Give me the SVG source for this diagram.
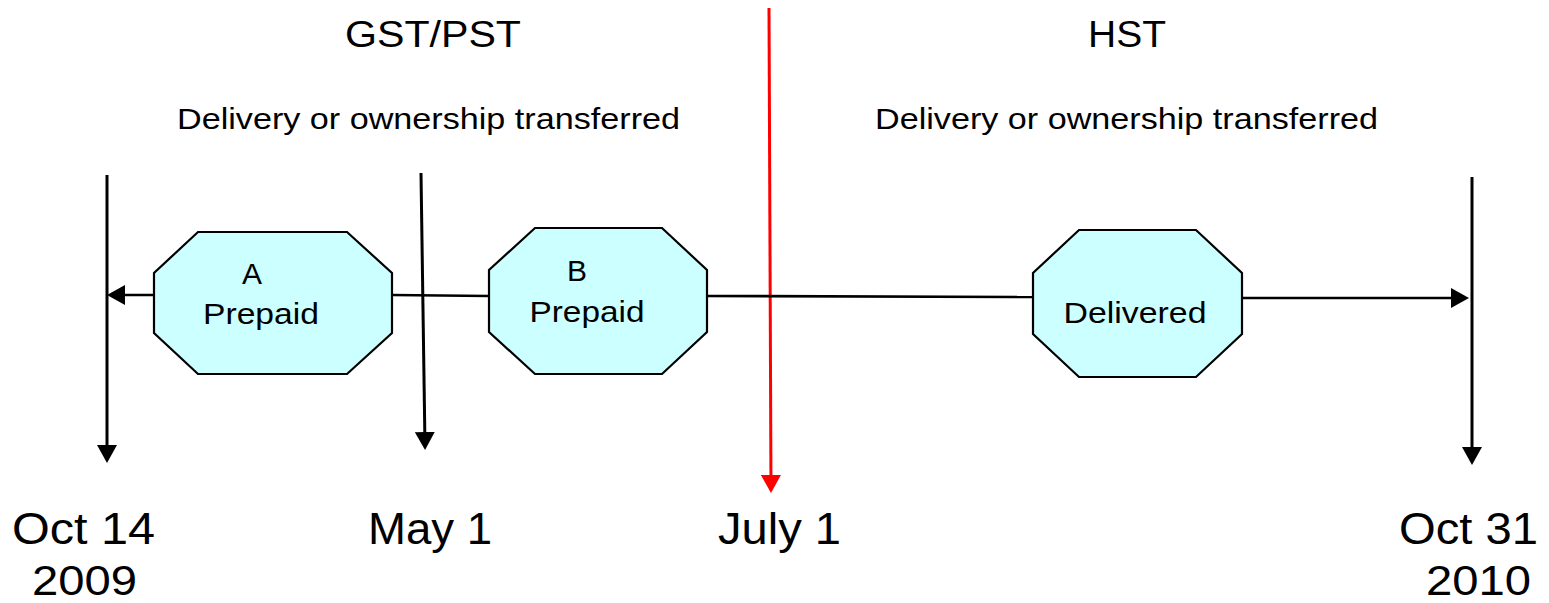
<svg xmlns="http://www.w3.org/2000/svg" width="1549" height="603" viewBox="0 0 1549 603">
<style>
  text { font-family: "Liberation Sans", Arial, sans-serif; fill: #000; }
  .hdr { font-size: 37px; }
  .sub { font-size: 29px; }
  .date { font-size: 44px; }
  .yr { font-size: 42px; }
  .lbl { font-size: 29px; text-anchor: middle; }
  .oct { fill: #CCFFFF; stroke: #000; stroke-width: 2.2; }
  .conn { stroke: #000; stroke-width: 2.6; fill: none; }
  .vline { stroke: #000; stroke-width: 3; fill: none; }
  .red { stroke: #FF0000; stroke-width: 3; fill: none; }
</style>
<defs>
  <marker id="ah" viewBox="0 0 18 20" refX="14" refY="10" markerWidth="18" markerHeight="20" markerUnits="userSpaceOnUse" orient="auto">
    <path d="M0,0 L18,10 L0,20 z" fill="#000"/>
  </marker>
  <marker id="ahr" viewBox="0 0 18 20" refX="14" refY="10" markerWidth="18" markerHeight="20" markerUnits="userSpaceOnUse" orient="auto">
    <path d="M0,0 L18,10 L0,20 z" fill="#FF0000"/>
  </marker>
</defs>
<rect width="1549" height="603" fill="#fff"/>

<g id="headers">
  <text class="hdr" x="345" y="47" textLength="176" lengthAdjust="spacingAndGlyphs">GST/PST</text>
  <text class="sub" x="177" y="129" textLength="503" lengthAdjust="spacingAndGlyphs">Delivery or ownership transferred</text>
  <text class="hdr" x="1088" y="47" textLength="78" lengthAdjust="spacingAndGlyphs">HST</text>
  <text class="sub" x="875" y="129" textLength="503" lengthAdjust="spacingAndGlyphs">Delivery or ownership transferred</text>
</g>

<g id="connectors">
  <line class="vline" x1="107" y1="175" x2="107" y2="459" marker-end="url(#ah)"/>
  <line class="vline" x1="421" y1="173" x2="425" y2="446" marker-end="url(#ah)"/>
  <line class="vline" x1="1472" y1="177" x2="1472" y2="461" marker-end="url(#ah)"/>
  <line class="red" x1="769" y1="8" x2="771" y2="489" marker-end="url(#ahr)"/>
  <line class="conn" x1="154" y1="295" x2="111" y2="295" marker-end="url(#ah)"/>
  <line class="conn" x1="392" y1="295" x2="489" y2="296"/>
  <line class="conn" x1="707" y1="296" x2="1033" y2="297"/>
  <line class="conn" x1="1242" y1="298" x2="1465" y2="298" marker-end="url(#ah)"/>
</g>

<g id="nodeA">
  <polygon class="oct" points="198,232 347,232 392,273 392,333 347,374 198,374 154,333 154,273"/>
  <text class="lbl" x="252" y="284" textLength="20" lengthAdjust="spacingAndGlyphs">A</text>
  <text class="lbl" x="261" y="324" textLength="116" lengthAdjust="spacingAndGlyphs">Prepaid</text>
</g>

<g id="nodeB">
  <polygon class="oct" points="535,228 662,228 707,270 707,332 662,374 535,374 489,332 489,270"/>
  <text class="lbl" x="577" y="281" textLength="20" lengthAdjust="spacingAndGlyphs">B</text>
  <text class="lbl" x="587" y="322" textLength="115" lengthAdjust="spacingAndGlyphs">Prepaid</text>
</g>

<g id="nodeDelivered">
  <polygon class="oct" points="1079,230 1196,230 1242,273 1242,334 1196,377 1079,377 1033,334 1033,273"/>
  <text class="lbl" x="1135" y="323" textLength="143" lengthAdjust="spacingAndGlyphs">Delivered</text>
</g>

<g id="dates">
  <text class="date" x="12" y="544" textLength="143" lengthAdjust="spacingAndGlyphs">Oct 14</text>
  <text class="yr" x="32" y="595" textLength="105" lengthAdjust="spacingAndGlyphs">2009</text>
  <text class="date" x="368" y="544" textLength="124" lengthAdjust="spacingAndGlyphs">May 1</text>
  <text class="date" x="718" y="544" textLength="123" lengthAdjust="spacingAndGlyphs">July 1</text>
  <text class="date" x="1399" y="544" textLength="139" lengthAdjust="spacingAndGlyphs">Oct 31</text>
  <text class="yr" x="1426" y="595" textLength="105" lengthAdjust="spacingAndGlyphs">2010</text>
</g>
</svg>
